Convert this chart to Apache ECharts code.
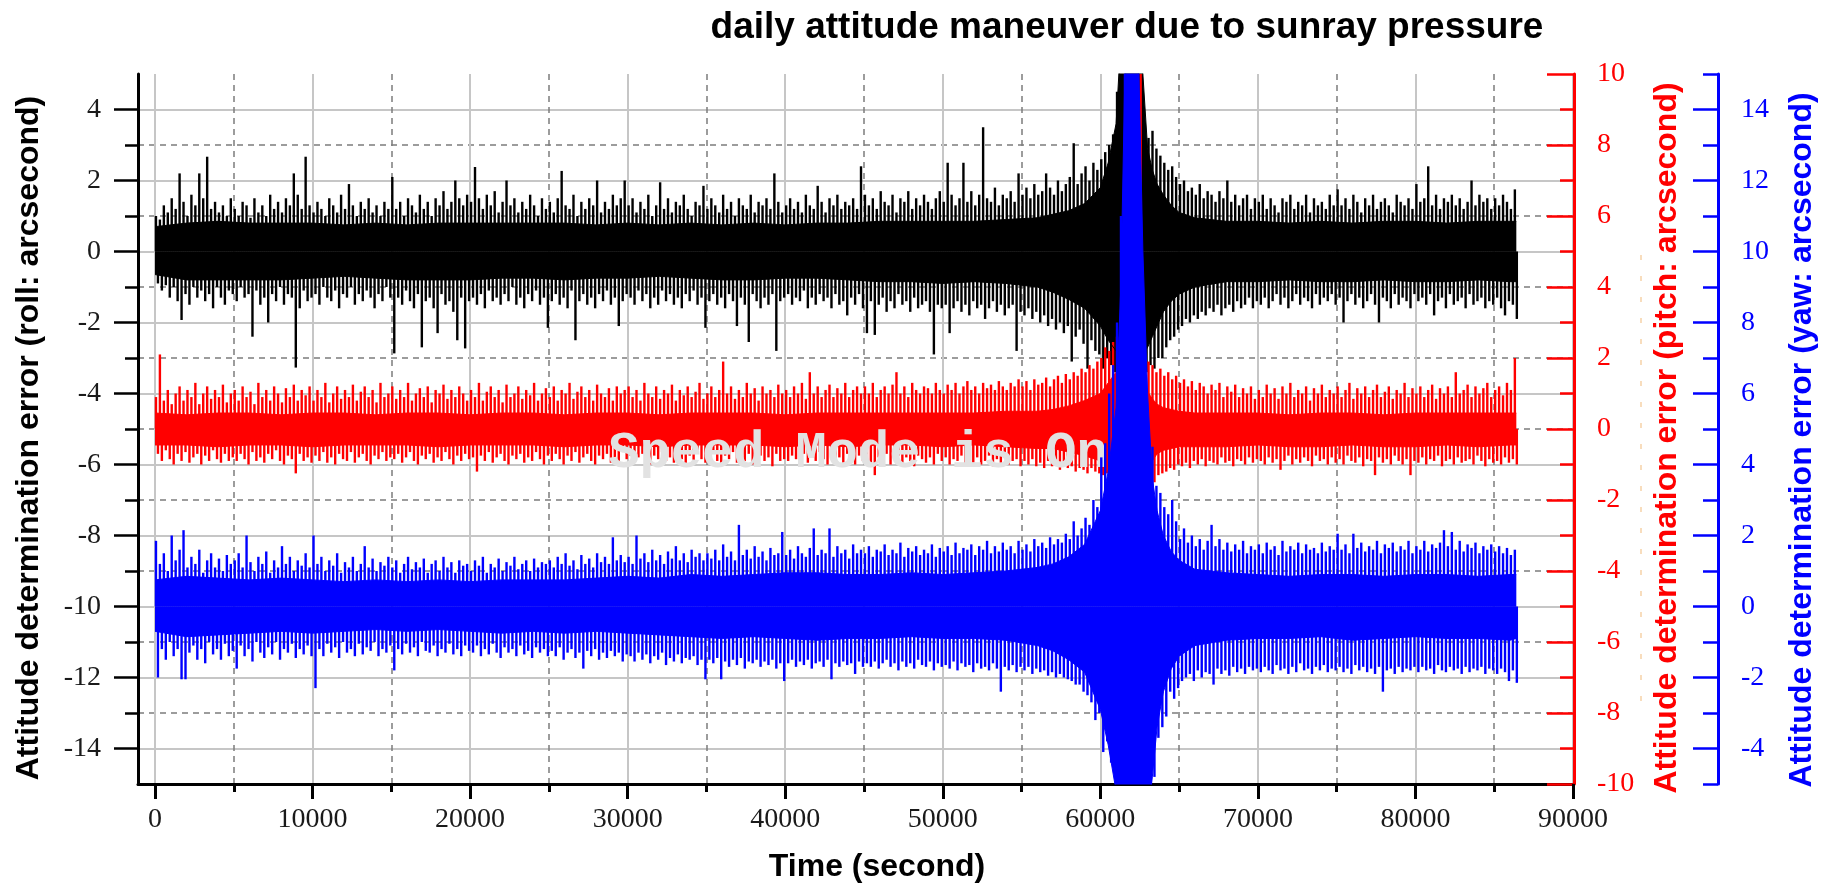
<!DOCTYPE html>
<html>
<head>
<meta charset="utf-8">
<title>daily attitude maneuver due to sunray pressure</title>
<script src="https://cdn.jsdelivr.net/npm/echarts@6/dist/echarts.min.js"></script>
<style>
  html, body { margin: 0; padding: 0; background: #ffffff; }
  #chart { width: 1825px; height: 885px; }
</style>
</head>
<body>
<div id="chart"></div>
<script>
// ---- Time axis -------------------------------------------------------------
const BIN = 250; // seconds covered by one spike bin (one up + one down stroke)
const xMajorTicks = [0, 10000, 20000, 30000, 40000, 50000, 60000, 70000, 80000, 90000];
const xMinorTicks = [5000, 15000, 25000, 35000, 45000, 55000, 65000, 75000, 85000];

// ---- Y tick values ---------------------------------------------------------
const rollMajorTicks = [-14, -12, -10, -8, -6, -4, -2, 0, 2, 4];
const rollMinorTicks = [-13, -11, -9, -7, -5, -3, -1, 1, 3];
const yawMajorTicks = [-4, -2, 0, 2, 4, 6, 8, 10, 12, 14];

// ---- Solid band of dense samples -------------------------------------------
const coreTime = [
  0, 2000, 4000, 6000, 8000, 10000, 12000, 14000, 16000, 18000,
  20000, 22000, 24000, 26000, 28000, 30000, 32000, 34000, 36000, 38000,
  40000, 42000, 44000, 46000, 48000, 50000, 52000, 54000, 56000, 57000,
  58000, 59000, 60000, 60500, 61000, 61300, 61600, 62000, 62400, 62700,
  63000, 63300, 63600, 64000, 64500, 65000, 66000, 68000, 70000, 72000,
  74000, 76000, 78000, 80000, 82000, 84000, 86000, 86400
];
const rollCoreHigh = [
  0.7, 0.8, 0.85, 0.8, 0.8, 0.8, 0.75, 0.8, 0.75, 0.8,
  0.8, 0.8, 0.8, 0.8, 0.75, 0.8, 0.75, 0.8, 0.75, 0.8,
  0.75, 0.8, 0.8, 0.85, 0.85, 0.85, 0.85, 0.9, 0.95, 1.05,
  1.15, 1.35, 1.8, 2.5, 3.6, 6, 6, 6, 6, 5,
  2.9, 2.3, 1.9, 1.6, 1.3, 1.1, 0.95, 0.85, 0.85, 0.8,
  0.85, 0.8, 0.85, 0.85, 0.8, 0.85, 0.85, 0.85
];
const rollCoreLow = [
  -0.65, -0.8, -0.8, -0.8, -0.8, -0.75, -0.7, -0.75, -0.8, -0.8,
  -0.8, -0.75, -0.75, -0.8, -0.75, -0.75, -0.7, -0.75, -0.8, -0.8,
  -0.75, -0.75, -0.8, -0.85, -0.85, -0.9, -0.85, -0.9, -1.0, -1.15,
  -1.35, -1.6, -2.1, -2.5, -2.8, -3.0, -3.1, -3.2, -3.1, -2.9,
  -2.7, -2.4, -2.1, -1.7, -1.4, -1.2, -1.0, -0.85, -0.85, -0.8,
  -0.85, -0.85, -0.8, -0.85, -0.85, -0.8, -0.85, -0.85
];
const pitchCoreHigh = [
  0.45, 0.4, 0.45, 0.45, 0.4, 0.45, 0.45, 0.4, 0.45, 0.45,
  0.4, 0.45, 0.45, 0.4, 0.45, 0.45, 0.4, 0.45, 0.45, 0.45,
  0.4, 0.45, 0.45, 0.45, 0.45, 0.45, 0.45, 0.5, 0.5, 0.55,
  0.65, 0.8, 1.0, 1.3, 1.6, 1.8, 1.8, 1.8, 1.8, 1.4,
  1.05, 0.85, 0.7, 0.6, 0.55, 0.5, 0.45, 0.45, 0.45, 0.4,
  0.45, 0.45, 0.4, 0.45, 0.45, 0.45, 0.45, 0.45
];
const pitchCoreLow = [
  -0.45, -0.45, -0.5, -0.45, -0.45, -0.5, -0.45, -0.45, -0.45, -0.5,
  -0.45, -0.45, -0.45, -0.5, -0.45, -0.45, -0.5, -0.45, -0.45, -0.45,
  -0.5, -0.45, -0.5, -0.45, -0.45, -0.5, -0.45, -0.5, -0.55, -0.55,
  -0.65, -0.75, -0.9, -1.0, -1.1, -1.15, -1.15, -1.15, -1.15, -1.15,
  -1.05, -0.9, -0.7, -0.6, -0.55, -0.5, -0.5, -0.5, -0.45, -0.5,
  -0.5, -0.45, -0.5, -0.5, -0.45, -0.5, -0.45, -0.45
];
const yawCoreHigh = [
  0.75, 0.85, 0.8, 0.75, 0.8, 0.75, 0.7, 0.75, 0.7, 0.75,
  0.7, 0.75, 0.75, 0.75, 0.8, 0.85, 0.8, 0.9, 0.85, 0.9,
  0.95, 0.95, 0.9, 0.9, 0.95, 0.9, 0.95, 1.0, 1.1, 1.2,
  1.4, 1.75, 2.7, 3.8, 5.6, 9.0, 16, 16, 16, 10,
  6.0, 3.6, 2.7, 2.0, 1.55, 1.3, 1.05, 0.95, 0.9, 0.85,
  0.9, 0.9, 0.85, 0.9, 0.9, 0.85, 0.9, 0.9
];
const yawCoreLow = [
  -0.7, -0.85, -0.8, -0.75, -0.7, -0.75, -0.7, -0.65, -0.7, -0.65,
  -0.7, -0.75, -0.7, -0.75, -0.7, -0.75, -0.8, -0.85, -0.9, -0.85,
  -0.9, -0.95, -0.9, -0.9, -0.85, -0.9, -0.9, -0.95, -1.1, -1.25,
  -1.5, -1.85, -2.9, -3.9, -5.2, -6, -6, -6, -6, -6,
  -6, -4.8, -3.4, -2.4, -1.75, -1.4, -1.1, -0.95, -0.9, -0.9,
  -0.85, -0.95, -0.9, -0.85, -0.9, -0.9, -0.95, -0.9
];

// ---- Peak excursions per 250 s bin (346 bins, one row = 5000 s) ------------
const rollHigh = [
  1.0, 0.9, 1.3, 1.1, 1.5, 1.2, 2.2, 1.4, 1.0, 1.6, 1.3, 2.2, 1.5, 2.67, 1.2, 1.4, 1.1, 1.3, 1.0, 1.5,
  1.2, 1.0, 1.4, 1.3, 0.95, 1.5, 1.1, 1.3, 1.0, 1.6, 1.2, 1.4, 1.1, 1.5, 1.3, 2.2, 1.6, 1.2, 2.67, 1.3,
  1.1, 1.4, 1.2, 1.0, 1.5, 1.3, 1.1, 1.6, 1.2, 1.9, 1.3, 1.0, 1.4, 1.2, 1.5, 1.1, 1.3, 1.0, 1.4, 1.2,
  2.1, 1.2, 1.4, 1.0, 1.5, 1.3, 1.1, 1.6, 1.2, 1.4, 1.0, 1.5, 1.3, 1.7, 1.2, 1.4, 2.0, 1.5, 1.3, 1.6,
  1.4, 2.38, 1.5, 1.2, 1.6, 1.3, 1.7, 1.1, 1.4, 2.0, 1.3, 1.5, 1.1, 1.4, 1.2, 1.6, 1.3, 1.0, 1.5, 1.2,
  1.4, 1.1, 1.5, 2.27, 1.3, 1.2, 1.6, 1.0, 1.4, 1.2, 1.5, 1.3, 2.0, 1.1, 1.4, 1.2, 1.6, 1.3, 1.5, 2.0,
  1.3, 1.5, 1.1, 1.4, 1.2, 1.6, 1.0, 1.3, 1.95, 1.2, 1.5, 1.1, 1.4, 1.3, 1.6, 1.2, 1.0, 1.4, 1.3, 1.85,
  1.2, 1.5, 1.3, 1.1, 1.6, 1.2, 1.4, 1.0, 1.5, 1.3, 1.2, 1.6, 1.1, 1.4, 1.3, 1.5, 1.2, 2.2, 1.4, 1.1,
  1.3, 1.5, 1.2, 1.4, 1.1, 1.6, 1.3, 1.2, 1.85, 1.4, 1.1, 1.5, 1.3, 1.6, 1.2, 1.4, 1.3, 1.5, 1.2, 2.4,
  1.6, 1.3, 1.5, 1.2, 1.7, 1.4, 1.3, 1.6, 1.1, 1.5, 1.4, 1.7, 1.2, 1.5, 1.3, 1.6, 1.4, 1.2, 1.5, 1.7,
  1.4, 2.5, 1.6, 1.3, 1.5, 2.5, 1.4, 1.7, 1.3, 1.6, 3.5, 1.5, 1.4, 1.8, 1.3, 1.6, 1.5, 1.7, 1.4, 2.2,
  1.6, 1.8, 1.5, 1.9, 1.6, 1.7, 2.2, 1.8, 1.6, 2.0, 1.7, 1.9, 2.1, 3.05, 1.9, 2.2, 2.4, 2.0, 2.5, 2.3,
  2.6, 2.8, 3.0, 3.3, 4.5, 6, 6, 6, 6, 6, 5.5, 3.6, 3.2, 3.4, 2.9, 2.7, 2.5, 2.3, 2.4, 2.1,
  1.9, 2.0, 1.7, 1.8, 1.6, 1.9, 1.5, 1.7, 1.6, 1.4, 1.7, 1.5, 2.0, 1.4, 1.6, 1.3, 1.5, 1.6, 1.2, 1.5,
  1.4, 1.6, 1.2, 1.5, 1.3, 1.1, 1.5, 1.4, 1.6, 1.2, 1.4, 1.3, 1.6, 1.1, 1.5, 1.3, 1.4, 1.2, 1.6, 1.3,
  1.75, 1.3, 1.5, 1.2, 1.6, 1.4, 1.1, 1.5, 1.3, 1.6, 1.2, 1.4, 1.5, 1.3, 1.1, 1.6, 1.4, 1.3, 1.5, 1.2,
  1.9, 1.4, 1.5, 2.4, 1.3, 1.6, 1.2, 1.5, 1.4, 1.6, 1.3, 1.5, 1.2, 1.4, 2.0, 1.3, 1.6, 1.4, 1.5, 1.2,
  1.5, 1.3, 1.6, 1.4, 1.2, 1.75
];
const rollLow = [
  -0.9, -1.1, -0.95, -1.3, -1.0, -1.4, -1.93, -1.2, -1.5, -1.0, -1.3, -1.1, -1.4, -1.2, -1.6, -1.0, -1.3, -1.5, -1.1, -1.2,
  -1.4, -1.0, -1.3, -1.2, -2.4, -1.1, -1.5, -1.3, -2.0, -1.2, -1.4, -1.0, -1.5, -1.2, -1.3, -3.27, -1.6, -1.1, -1.4, -1.3,
  -1.2, -1.5, -1.0, -1.3, -1.4, -1.1, -1.6, -1.2, -1.3, -1.0, -1.5, -1.2, -1.4, -1.1, -1.3, -1.6, -1.2, -1.4, -1.0, -1.3,
  -2.87, -1.3, -1.5, -1.1, -1.4, -1.6, -1.2, -2.7, -1.4, -1.3, -1.6, -2.3, -1.2, -1.5, -1.4, -1.7, -2.5, -1.3, -2.73, -1.4,
  -1.3, -1.5, -1.2, -1.6, -1.1, -1.4, -1.3, -1.5, -1.2, -1.4, -1.0, -1.5, -1.3, -1.6, -1.2, -1.4, -1.1, -1.5, -1.3, -2.15,
  -1.4, -1.2, -1.5, -1.3, -1.6, -1.1, -2.5, -1.4, -1.2, -1.5, -1.3, -1.6, -1.2, -1.4, -1.1, -1.5, -1.3, -2.1, -1.4, -1.2,
  -1.3, -1.5, -1.1, -1.4, -1.2, -1.6, -1.3, -1.5, -1.1, -1.4, -1.2, -1.5, -1.3, -1.6, -1.2, -1.4, -1.1, -1.5, -1.3, -2.15,
  -1.4, -1.2, -1.5, -1.3, -1.6, -1.2, -1.4, -2.1, -1.3, -1.5, -2.55, -1.2, -1.4, -1.6, -1.3, -1.5, -1.2, -2.8, -1.4, -1.3,
  -1.2, -1.5, -1.3, -1.4, -1.1, -1.6, -1.3, -1.5, -1.2, -1.4, -1.3, -1.6, -1.2, -1.5, -1.4, -1.8, -1.3, -1.5, -1.2, -1.6,
  -2.3, -1.4, -2.35, -1.5, -1.3, -1.7, -1.4, -1.6, -1.2, -1.5, -1.4, -1.7, -1.3, -1.6, -1.5, -1.4, -1.7, -2.9, -1.5, -1.6,
  -1.5, -2.3, -1.6, -1.4, -1.7, -1.5, -1.8, -1.4, -1.6, -1.5, -1.9, -1.6, -1.4, -1.7, -1.5, -1.8, -1.6, -1.5, -2.8, -1.7,
  -1.8, -1.6, -1.9, -1.7, -2.0, -1.8, -2.1, -1.9, -2.2, -2.0, -2.3, -2.1, -3.1, -2.4, -2.2, -2.6, -3.3, -2.5, -2.8, -2.9,
  -3.3, -3.0, -3.2, -3.4, -3.6, -3.7, -3.8, -3.7, -3.8, -3.6, -3.5, -3.4, -3.2, -3.3, -3.0, -3.0, -2.7, -2.5, -2.4, -2.2,
  -2.1, -1.9, -2.0, -1.8, -1.9, -1.7, -1.8, -1.6, -1.7, -1.5, -1.8, -1.6, -1.5, -1.7, -1.4, -1.6, -1.5, -1.3, -1.6, -1.4,
  -1.5, -1.3, -1.6, -1.4, -1.2, -1.5, -1.3, -1.6, -1.4, -1.2, -1.5, -1.3, -1.4, -1.6, -1.2, -1.5, -1.3, -1.4, -1.2, -1.5,
  -1.3, -2.0, -1.4, -1.2, -1.5, -1.3, -1.6, -1.4, -1.2, -1.5, -2.0, -1.3, -1.4, -1.6, -1.2, -1.5, -1.3, -1.4, -1.6, -1.2,
  -1.4, -1.3, -1.5, -1.2, -1.8, -1.4, -1.3, -1.6, -1.2, -1.5, -1.4, -1.3, -1.6, -1.2, -1.5, -1.4, -1.3, -1.6, -1.4, -1.5,
  -1.3, -1.6, -1.8, -1.4, -1.5, -1.9
];
const pitchHigh = [
  0.9, 2.1, 0.8, 1.1, 0.7, 1.0, 1.2, 0.8, 1.1, 0.9, 1.3, 0.7, 1.0, 1.2, 0.85, 1.1, 0.9, 1.25, 0.75, 1.0,
  1.1, 0.8, 1.2, 0.9, 1.05, 0.7, 1.3, 0.9, 1.1, 0.8, 1.2, 1.0, 0.75, 1.15, 0.9, 1.25, 0.8, 1.1, 0.95, 1.2,
  0.8, 1.1, 0.9, 1.3, 0.75, 1.0, 1.2, 0.85, 1.1, 0.9, 1.25, 0.8, 1.05, 1.2, 0.9, 1.1, 0.75, 1.3, 0.9, 1.0,
  1.2, 0.85, 1.1, 0.9, 1.3, 0.8, 1.0, 1.15, 0.9, 1.2, 0.75, 1.1, 1.0, 1.25, 0.85, 1.1, 0.9, 1.2, 1.0, 0.8,
  1.1, 0.9, 1.3, 0.8, 1.05, 1.2, 0.9, 1.1, 0.75, 1.25, 0.9, 1.0, 1.2, 0.85, 1.1, 0.95, 1.3, 0.8, 1.0, 1.15,
  0.9, 1.2, 0.8, 1.1, 1.0, 1.3, 0.85, 1.05, 1.2, 0.9, 1.1, 0.8, 1.25, 1.0, 0.9, 1.15, 0.8, 1.2, 1.0, 1.1,
  1.2, 0.9, 1.1, 0.8, 1.3, 1.0, 0.9, 1.2, 0.85, 1.1, 1.0, 1.25, 0.8, 1.1, 0.95, 1.2, 0.9, 1.05, 1.3, 0.85,
  1.0, 1.2, 0.9, 1.1, 1.9, 1.0, 1.2, 0.85, 1.1, 0.9, 1.3, 1.0, 1.15, 0.8, 1.2, 1.0, 1.1, 0.9, 1.25, 1.0,
  1.1, 0.9, 1.2, 1.0, 1.3, 0.85, 1.6, 1.0, 1.2, 0.9, 1.1, 1.25, 0.9, 1.15, 1.0, 1.3, 0.9, 1.1, 1.2, 1.0,
  1.2, 1.0, 1.3, 0.9, 1.1, 1.2, 1.0, 1.25, 1.6, 1.0, 1.2, 0.9, 1.3, 1.1, 1.0, 1.2, 1.15, 1.0, 1.3, 1.1,
  1.0, 1.25, 1.1, 1.3, 1.0, 1.2, 1.35, 1.1, 1.2, 1.0, 1.3, 1.15, 1.25, 1.1, 1.35, 1.2, 1.1, 1.3, 1.2, 1.4,
  1.2, 1.35, 1.1, 1.4, 1.25, 1.3, 1.45, 1.2, 1.4, 1.5, 1.3, 1.55, 1.4, 1.6, 1.5, 1.7, 1.6, 1.8, 1.7, 1.9,
  2.0, 2.3, 2.2, 2.45, 2.6, 2.6, 2.6, 2.6, 2.6, 2.6, 12, 2.0, 1.9, 1.8, 1.6, 1.7, 1.5, 1.6, 1.4, 1.5,
  1.3, 1.4, 1.2, 1.35, 1.1, 1.3, 1.2, 1.0, 1.25, 1.1, 1.3, 0.9, 1.2, 1.05, 1.25, 0.9, 1.15, 1.0, 1.2, 0.85,
  1.1, 0.9, 1.25, 1.0, 1.15, 0.85, 1.2, 1.0, 1.3, 0.9, 1.1, 1.0, 1.2, 0.8, 1.15, 1.0, 1.25, 0.9, 1.1, 1.0,
  1.2, 0.9, 1.1, 1.3, 0.85, 1.15, 1.0, 1.2, 0.9, 1.1, 1.25, 0.9, 1.05, 1.2, 0.85, 1.1, 1.0, 1.3, 0.9, 1.15,
  1.0, 1.2, 0.9, 1.1, 1.25, 0.85, 1.15, 1.0, 1.2, 0.9, 1.6, 1.0, 1.1, 1.25, 0.9, 1.2, 1.0, 1.15, 1.3, 0.9,
  1.1, 1.2, 0.95, 1.3, 1.1, 2.0
];
const pitchLow = [
  -0.7, -0.9, -0.6, -0.85, -1.0, -0.7, -0.9, -0.65, -0.95, -0.8, -0.7, -1.0, -0.75, -0.9, -0.6, -0.85, -0.95, -0.7, -0.9, -0.8,
  -0.9, -0.7, -0.85, -1.0, -0.65, -0.9, -0.8, -0.95, -0.7, -0.85, -0.6, -0.9, -1.0, -0.75, -0.85, -1.25, -0.7, -0.9, -0.8, -0.95,
  -0.75, -0.9, -0.65, -0.95, -0.8, -1.0, -0.7, -0.85, -0.9, -0.65, -0.95, -0.8, -0.7, -0.9, -1.0, -0.75, -0.85, -0.65, -0.9, -0.8,
  -0.85, -0.7, -0.95, -0.8, -0.65, -0.9, -1.0, -0.75, -0.85, -0.7, -0.95, -0.8, -0.9, -0.65, -0.85, -1.0, -0.75, -0.9, -0.7, -0.85,
  -0.8, -1.2, -0.75, -0.9, -0.65, -0.95, -0.8, -0.7, -0.9, -1.0, -0.75, -0.85, -0.7, -0.95, -0.8, -0.9, -0.65, -0.85, -1.0, -0.75,
  -0.9, -0.7, -0.85, -1.0, -0.75, -0.9, -0.65, -0.95, -0.8, -0.7, -0.9, -1.0, -0.75, -0.85, -0.7, -0.95, -0.8, -0.9, -0.65, -0.85,
  -0.75, -0.95, -0.8, -0.7, -0.9, -1.0, -0.75, -0.85, -0.65, -0.9, -0.8, -0.95, -0.7, -0.85, -1.0, -0.75, -0.9, -0.7, -0.85, -0.95,
  -0.8, -0.7, -0.9, -1.0, -0.75, -0.85, -0.65, -0.95, -0.8, -0.9, -0.7, -1.0, -0.85, -0.75, -0.9, -0.8, -1.05, -0.7, -0.9, -0.85,
  -0.9, -0.75, -0.85, -1.0, -0.7, -0.95, -0.8, -0.9, -0.65, -0.85, -1.0, -0.75, -0.9, -0.8, -0.95, -0.7, -0.85, -1.0, -0.75, -0.9,
  -0.85, -0.95, -1.3, -0.8, -0.9, -0.7, -1.0, -0.85, -0.75, -0.95, -0.8, -0.9, -1.05, -0.75, -0.85, -0.95, -0.8, -1.0, -0.7, -0.9,
  -0.8, -1.0, -0.85, -0.9, -0.75, -1.05, -0.85, -0.95, -0.8, -1.0, -0.9, -0.75, -1.05, -0.85, -0.95, -0.8, -1.0, -0.9, -0.85, -1.05,
  -0.9, -1.0, -0.85, -1.05, -0.95, -1.1, -0.9, -1.05, -1.0, -1.15, -0.95, -1.1, -1.05, -1.2, -1.1, -1.15, -1.25, -1.1, -1.2, -1.25,
  -1.3, -1.25, -1.3, -1.35, -1.4, -1.4, -1.4, -1.4, -1.45, -1.4, -1.45, -1.5, -1.6, -1.5, -1.3, -1.25, -1.2, -1.1, -1.15, -1.0,
  -1.05, -0.95, -1.1, -0.9, -1.0, -0.85, -1.05, -0.9, -0.95, -1.0, -0.8, -0.95, -0.9, -1.05, -0.85, -0.9, -1.0, -0.8, -0.95, -0.85,
  -0.9, -1.0, -0.8, -0.95, -0.85, -1.15, -0.9, -0.75, -1.0, -0.85, -0.95, -0.8, -0.9, -1.05, -0.75, -0.9, -0.85, -1.0, -0.8, -0.95,
  -0.85, -1.0, -0.75, -0.9, -0.95, -0.8, -1.05, -0.85, -0.9, -1.3, -0.8, -0.95, -0.85, -1.0, -0.75, -0.9, -1.0, -0.85, -1.3, -0.9,
  -0.95, -0.8, -1.0, -0.85, -0.9, -0.75, -1.05, -0.9, -0.85, -1.0, -0.8, -0.95, -0.9, -0.85, -1.0, -0.75, -0.9, -1.05, -0.85, -0.95,
  -0.9, -1.0, -0.8, -0.95, -0.85, -1.0
];
const yawHigh = [
  1.85, 1.2, 1.5, 1.0, 2.0, 1.3, 1.6, 2.15, 1.1, 1.4, 1.2, 1.6, 0.95, 1.3, 1.5, 1.1, 1.35, 1.0, 1.45, 1.2,
  1.3, 1.5, 1.1, 2.0, 1.25, 1.0, 1.4, 1.2, 1.55, 0.95, 1.3, 1.1, 1.7, 1.2, 1.4, 1.0, 1.3, 1.15, 1.5, 1.1,
  2.0, 1.2, 1.4, 1.0, 1.3, 1.15, 1.5, 0.95, 1.25, 1.1, 1.4, 1.0, 1.2, 1.7, 1.1, 1.35, 1.0, 1.25, 1.15, 1.4,
  1.1, 1.3, 0.95, 1.2, 1.4, 1.05, 1.25, 1.1, 1.35, 0.95, 1.2, 1.3, 1.0, 1.4, 1.1, 1.25, 0.95, 1.3, 1.15, 1.2,
  1.0, 1.3, 1.15, 1.4, 0.95, 1.2, 1.1, 1.35, 1.0, 1.25, 1.15, 1.4, 1.05, 1.2, 1.3, 1.0, 1.35, 1.1, 1.25, 1.2,
  1.3, 1.1, 1.4, 1.2, 1.5, 1.15, 1.3, 1.05, 1.45, 1.2, 1.35, 1.1, 1.5, 1.25, 1.4, 1.2, 1.95, 1.3, 1.45, 1.25,
  1.4, 1.2, 2.0, 1.35, 1.5, 1.25, 1.6, 1.3, 1.45, 1.2, 1.55, 1.35, 1.7, 1.3, 1.5, 1.25, 1.6, 1.4, 1.5, 1.3,
  1.5, 1.35, 1.6, 1.3, 1.75, 1.4, 1.55, 1.3, 2.3, 1.45, 1.6, 1.35, 1.7, 1.4, 1.55, 1.3, 1.65, 1.45, 1.5, 2.1,
  1.45, 1.6, 1.35, 1.7, 1.5, 1.4, 1.65, 2.2, 1.45, 1.6, 1.5, 2.2, 1.4, 1.7, 1.5, 1.6, 1.35, 1.75, 1.5, 1.6,
  1.5, 1.7, 1.4, 1.6, 1.55, 1.75, 1.45, 1.6, 1.5, 1.8, 1.4, 1.65, 1.55, 1.7, 1.45, 1.6, 1.5, 1.75, 1.4, 1.65,
  1.55, 1.7, 1.45, 1.8, 1.5, 1.65, 1.6, 1.75, 1.45, 1.7, 1.6, 1.85, 1.5, 1.7, 1.55, 1.8, 1.6, 1.7, 1.5, 1.85,
  1.6, 1.75, 1.55, 1.9, 1.7, 1.8, 1.65, 1.95, 1.75, 1.9, 1.8, 2.05, 1.9, 2.4, 2.0, 2.2, 2.5, 2.3, 3.0, 2.8,
  4.2, 4.6, 6.0, 6.8, 8.0, 11, 16, 16, 16, 16, 11, 7.0, 3.6, 4.5, 3.4, 3.2, 2.8, 2.6, 3.0, 2.4,
  1.9, 2.2, 1.8, 2.0, 1.7, 1.9, 1.6, 1.85, 2.3, 1.7, 1.9, 1.6, 1.8, 1.55, 1.75, 1.6, 1.85, 1.5, 1.7, 1.6,
  1.75, 1.5, 1.8, 1.6, 1.7, 1.45, 1.85, 1.55, 1.7, 1.6, 1.8, 1.5, 1.75, 1.6, 1.65, 1.5, 1.8, 1.55, 1.7, 1.6,
  2.05, 1.6, 1.75, 1.5, 2.05, 1.65, 1.8, 1.55, 1.7, 1.6, 1.85, 1.5, 1.75, 1.65, 1.8, 1.55, 1.7, 1.6, 1.85, 1.5,
  1.7, 1.6, 1.85, 1.55, 1.75, 1.65, 1.8, 2.15, 1.7, 2.1, 1.6, 1.85, 1.55, 1.75, 1.65, 1.8, 1.5, 1.7, 1.6, 1.75,
  1.55, 1.7, 1.5, 1.65, 1.45, 1.6
];
const yawLow = [
  -2.0, -1.2, -1.5, -1.0, -1.4, -1.2, -2.05, -2.05, -1.3, -1.1, -1.5, -1.2, -1.6, -1.0, -1.35, -1.2, -1.5, -1.05, -1.4, -1.25,
  -1.75, -1.1, -1.4, -1.2, -1.55, -1.0, -1.3, -1.45, -1.15, -1.35, -1.0, -1.5, -1.2, -1.3, -1.05, -1.45, -1.2, -1.35, -1.1, -1.4,
  -2.3, -1.2, -1.4, -1.05, -1.3, -1.15, -1.45, -1.0, -1.3, -1.2, -1.4, -1.05, -1.35, -1.15, -1.25, -1.0, -1.4, -1.2, -1.3, -1.1,
  -1.8, -1.2, -1.35, -1.05, -1.3, -1.15, -1.4, -1.0, -1.25, -1.3, -1.1, -1.4, -1.2, -1.3, -1.05, -1.35, -1.2, -1.4, -1.1, -1.25,
  -1.3, -1.1, -1.4, -1.2, -1.35, -1.05, -1.3, -1.45, -1.15, -1.3, -1.2, -1.4, -1.1, -1.35, -1.25, -1.45, -1.15, -1.3, -1.2, -1.4,
  -1.25, -1.4, -1.15, -1.5, -1.3, -1.2, -1.45, -1.3, -1.75, -1.25, -1.4, -1.2, -1.5, -1.3, -1.45, -1.25, -1.4, -1.3, -1.55, -1.35,
  -1.4, -1.55, -1.3, -1.5, -1.35, -1.6, -1.4, -1.5, -1.3, -1.65, -1.45, -1.55, -1.35, -1.6, -1.45, -1.5, -1.4, -1.65, -1.5, -2.05,
  -1.5, -1.6, -1.45, -2.05, -1.55, -1.7, -1.5, -1.65, -1.45, -1.75, -1.55, -1.6, -1.5, -1.7, -1.55, -1.65, -1.5, -1.75, -1.6, -2.1,
  -1.6, -1.5, -1.7, -1.55, -1.65, -1.5, -1.75, -1.6, -1.55, -1.7, -1.5, -2.05, -1.6, -1.7, -1.55, -1.65, -1.6, -1.9, -1.55, -1.7,
  -1.6, -1.7, -1.55, -1.75, -1.6, -1.5, -1.7, -1.6, -1.8, -1.55, -1.7, -1.6, -1.75, -1.5, -1.65, -1.7, -1.55, -1.8, -1.6, -1.7,
  -1.65, -1.75, -1.55, -1.8, -1.6, -1.7, -1.65, -1.85, -1.6, -1.75, -1.7, -1.8, -1.6, -1.75, -2.4, -1.7, -1.8, -1.65, -1.85, -1.7,
  -1.8, -1.7, -1.9, -1.75, -1.85, -1.8, -1.95, -1.85, -2.0, -1.9, -2.0, -2.05, -2.1, -2.2, -2.2, -2.4, -2.5, -2.7, -3.2, -3.0,
  -4.1, -3.8, -4.4, -4.6, -5.3, -6, -6, -6, -6, -6, -6, -6, -6, -4.8, -3.7, -3.4, -3.1, -2.4, -2.6, -2.3,
  -2.1, -2.0, -1.9, -2.1, -1.8, -2.0, -1.85, -1.9, -2.2, -1.75, -1.9, -1.8, -1.95, -1.7, -1.85, -1.75, -1.9, -1.7, -1.8, -1.75,
  -1.85, -1.7, -1.8, -1.9, -1.65, -1.8, -1.75, -1.9, -1.7, -1.85, -1.6, -1.8, -1.75, -1.9, -1.7, -1.8, -1.65, -1.85, -1.75, -1.8,
  -1.7, -1.85, -1.75, -1.9, -1.65, -1.8, -1.7, -1.85, -1.75, -1.9, -1.7, -2.4, -1.8, -1.75, -1.9, -1.7, -1.85, -1.75, -1.8, -1.7,
  -1.85, -1.7, -1.8, -1.75, -1.9, -1.65, -1.8, -1.85, -1.7, -1.8, -1.75, -1.9, -1.7, -1.85, -1.75, -1.8, -1.7, -1.9, -1.75, -1.8,
  -1.9, -1.75, -1.85, -2.1, -1.8, -2.15
];

// ---- Styling ---------------------------------------------------------------
const ROLL_COLOR = '#000000';
const PITCH_COLOR = '#ff0000';
const YAW_COLOR = '#0000ff';
const SOLID_GRID = { color: '#c6c6c6', width: 2 };
const DASHED_GRID = { color: '#7c7c7c', width: 1.5, type: [6, 5] };
const tickFont = { fontFamily: '"Liberation Serif", "DejaVu Serif", serif', fontSize: 28 };
const titleFont = '"Liberation Sans", Arial, sans-serif';
const plain = v => String(v);

// Solid band: two filled lines, each closed against the series' zero level.
function bandSeries(yAxisIndex, color, highs, lows, z) {
  const mk = vals => ({
    type: 'line',
    xAxisIndex: 0,
    yAxisIndex: yAxisIndex,
    data: coreTime.map((t, k) => [t, vals[k]]),
    symbol: 'none',
    showSymbol: false,
    lineStyle: { color: color, width: 1 },
    areaStyle: { color: color, opacity: 1, origin: 0 },
    z: z,
    silent: true
  });
  return [mk(highs), mk(lows)];
}

// Peak excursions: one upward and one downward stroke in every bin.
function spikeSeries(yAxisIndex, color, highs, lows, z) {
  const data = [];
  highs.forEach((h, i) => {
    data.push([i * BIN + 60, h]);
    data.push([i * BIN + 185, lows[i]]);
  });
  return {
    type: 'bar',
    xAxisIndex: 0,
    yAxisIndex: yAxisIndex,
    data: data,
    barWidth: 2.4,
    barGap: '-100%',
    itemStyle: { color: color },
    z: z,
    silent: true
  };
}

const chart = echarts.init(document.getElementById('chart'), null, { renderer: 'canvas' });

chart.setOption({
  animation: false,
  backgroundColor: '#ffffff',
  grid: { left: 138, right: 252, top: 74, bottom: 101 },
  xAxis: [
    {
      type: 'value', position: 'bottom', min: -1080, max: 90000,
      axisLine: { show: true, onZero: false, lineStyle: { color: '#000', width: 3 } },
      axisTick: { show: true, customValues: xMajorTicks, length: 15, lineStyle: { color: '#000', width: 3 } },
      axisLabel: { show: true, customValues: xMajorTicks, margin: 22, color: '#1a1a1a', formatter: plain, ...tickFont },
      splitLine: { show: true, lineStyle: SOLID_GRID }
    },
    {
      type: 'value', position: 'bottom', min: -1080, max: 90000,
      axisLine: { show: false, onZero: false },
      axisTick: { show: true, customValues: xMinorTicks, length: 8, lineStyle: { color: '#000', width: 3 } },
      axisLabel: { show: false },
      splitLine: { show: true, lineStyle: DASHED_GRID }
    }
  ],
  yAxis: [
    { // roll: labelled even ticks
      type: 'value', position: 'left', min: -15, max: 5,
      axisLine: { show: true, onZero: false, lineStyle: { color: '#000', width: 3 } },
      axisTick: { show: true, customValues: rollMajorTicks, length: 24, lineStyle: { color: '#000', width: 2.5 } },
      axisLabel: { show: true, customValues: rollMajorTicks, margin: 37, color: '#1a1a1a', formatter: plain, ...tickFont },
      splitLine: { show: true, lineStyle: SOLID_GRID }
    },
    { // roll: odd ticks with dashed grid
      type: 'value', position: 'left', min: -15, max: 5,
      axisLine: { show: false, onZero: false },
      axisTick: { show: true, customValues: rollMinorTicks, length: 13, lineStyle: { color: '#000', width: 2.5 } },
      axisLabel: { show: false },
      splitLine: { show: true, lineStyle: DASHED_GRID }
    },
    { // pitch
      type: 'value', position: 'right', offset: 1, min: -10, max: 10, interval: 2,
      axisLine: { show: true, onZero: false, lineStyle: { color: PITCH_COLOR, width: 3 } },
      axisTick: { show: true, inside: true, length: 27, lineStyle: { color: PITCH_COLOR, width: 2.5 } },
      minorTick: { show: true, splitNumber: 2, length: 14, lineStyle: { color: PITCH_COLOR, width: 2.5 } },
      axisLabel: { show: true, margin: 23, color: PITCH_COLOR, formatter: plain, ...tickFont },
      splitLine: { show: false }
    },
    { // yaw: labelled even ticks
      type: 'value', position: 'right', offset: 145, min: -5, max: 15,
      axisLine: { show: true, onZero: false, lineStyle: { color: YAW_COLOR, width: 3 } },
      axisTick: { show: true, inside: true, customValues: yawMajorTicks, length: 25, lineStyle: { color: YAW_COLOR, width: 2.5 } },
      axisLabel: { show: true, customValues: yawMajorTicks, margin: 23, color: YAW_COLOR, formatter: plain, ...tickFont },
      splitLine: { show: false }
    },
    { // yaw: odd ticks
      type: 'value', position: 'right', offset: 145, min: -5, max: 15, interval: 2,
      axisLine: { show: false, onZero: false },
      axisTick: { show: true, inside: true, length: 15, lineStyle: { color: YAW_COLOR, width: 2.5 } },
      axisLabel: { show: false },
      splitLine: { show: false }
    }
  ],
  graphic: [
    {
      type: 'text', x: 1127, y: 28, z: 10,
      style: { text: 'daily attitude maneuver due to sunray pressure', fill: '#000',
        font: 'bold 37px ' + titleFont, align: 'center', verticalAlign: 'middle' }
    },
    {
      type: 'text', x: 877, y: 867, z: 10,
      style: { text: 'Time (second)', fill: '#000',
        font: 'bold 32px ' + titleFont, align: 'center', verticalAlign: 'middle' }
    },
    {
      type: 'text', x: 29, y: 438, rotation: Math.PI / 2, z: 10,
      style: { text: 'Attitude determination error (roll: arcsecond)', fill: '#000',
        font: 'bold 32px ' + titleFont, align: 'center', verticalAlign: 'middle' }
    },
    {
      type: 'text', x: 1667, y: 438, rotation: Math.PI / 2, z: 10,
      style: { text: 'Attitude determination error (pitch: arcsecond)', fill: PITCH_COLOR,
        font: 'bold 32px ' + titleFont, align: 'center', verticalAlign: 'middle' }
    },
    {
      type: 'text', x: 1802, y: 440, rotation: Math.PI / 2, z: 10,
      style: { text: 'Attitude determination error (yaw: arcsecond)', fill: YAW_COLOR,
        font: 'bold 32px ' + titleFont, align: 'center', verticalAlign: 'middle' }
    },
    {
      type: 'line', z: 1,
      shape: { x1: 1641, y1: 255, x2: 1641, y2: 717 },
      style: { stroke: '#f6d2a8', lineWidth: 1.5, lineDash: [5, 16] }
    },
    {
      type: 'text', x: 858, y: 454, z: 3,
      style: { text: 'Speed Mode is On', fill: '#e2e2e2',
        font: 'bold 52px "Liberation Mono", "DejaVu Sans Mono", monospace', align: 'center', verticalAlign: 'middle' }
    }
  ],
  series: [
    ...bandSeries(0, ROLL_COLOR, rollCoreHigh, rollCoreLow, 2),
    spikeSeries(0, ROLL_COLOR, rollHigh, rollLow, 2),
    ...bandSeries(2, PITCH_COLOR, pitchCoreHigh, pitchCoreLow, 2),
    spikeSeries(2, PITCH_COLOR, pitchHigh, pitchLow, 2),
    ...bandSeries(3, YAW_COLOR, yawCoreHigh, yawCoreLow, 4),
    spikeSeries(3, YAW_COLOR, yawHigh, yawLow, 4)
  ]
});
</script>
</body>
</html>
